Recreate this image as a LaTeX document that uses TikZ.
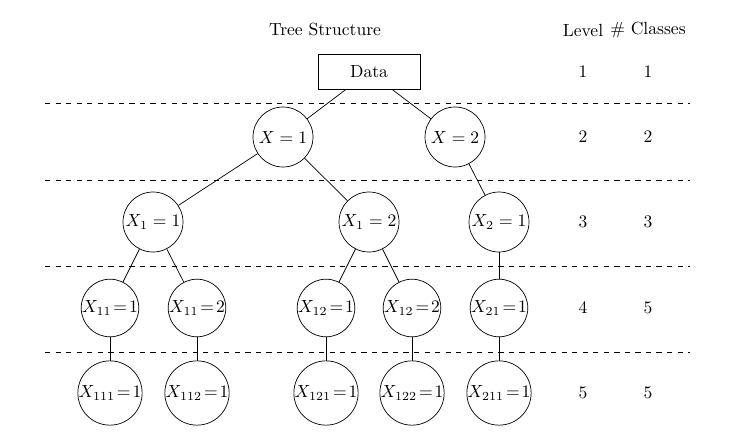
\documentclass[tikz,border=0pt]{standalone}
\usepackage{amsmath}
\usepackage{tikz}
\usetikzlibrary{calc}

\begin{document}
\begin{tikzpicture}[x=0.02cm,y=-0.02cm,
	class/.style={draw,circle,inner sep=0pt,minimum size=1.08cm},
	wide/.style={class,minimum size=1.2cm},
	root/.style={draw,rectangle,minimum width=2.04cm,minimum height=0.7cm},
	level/.style={dashed}]
		\useasboundingbox (0,0) rectangle (729,433);

		% headings
		\node (title) at (325,29) {Tree Structure};
		\node (lvl) at (583,30) {Level};
		\node (ncl) at (648,30) {\# Classes};

		% separators
		\foreach \y in {103,180,266,352}
			\draw[level] (45,\y) -- (690,\y);

		\node[root] (D) at (369,72) {Data};

		\node[wide] (A) at (283,137) {$X=1$};
		\node[wide] (B) at (455,137) {$X=2$};

		\node[wide] (A1) at (153,222) {$X_1=1$};
		\node[wide] (A2) at (369,222) {$X_1=2$};
		\node[wide] (B1) at (499,222) {$X_2=1$};

		\node[class] (A11) at (110,308) {$X_{11}\!=\!1$};
		\node[class] (A12) at (197,308) {$X_{11}\!=\!2$};
		\node[class] (A21) at (326,308) {$X_{12}\!=\!1$};
		\node[class] (A22) at (412,308) {$X_{12}\!=\!2$};
		\node[class] (B11) at (499,308) {$X_{21}\!=\!1$};

		\node[class] (A111) at (110,393) {$X_{111}\!=\!1$};
		\node[class] (A121) at (197,393) {$X_{112}\!=\!1$};
		\node[class] (A211) at (326,393) {$X_{121}\!=\!1$};
		\node[class] (A221) at (412,393) {$X_{122}\!=\!1$};
		\node[class] (B111) at (499,393) {$X_{211}\!=\!1$};

		\draw (D) -- (A);
		\draw (D) -- (B);
		\draw (A) -- (A1);
		\draw (A) -- (A2);
		\draw (B) -- (B1);
		\draw (A1) -- (A11);
		\draw (A1) -- (A12);
		\draw (A2) -- (A21);
		\draw (A2) -- (A22);
		\draw (B1) -- (B11);
		\draw (A11) -- (A111);
		\draw (A12) -- (A121);
		\draw (A21) -- (A211);
		\draw (A22) -- (A221);
		\draw (B11) -- (B111);

		% level and class counts
		\node (l1) at (583,72) {1};   \node (c1) at (648,72) {1};
		\node (l2) at (583,137) {2};  \node (c2) at (648,137) {2};
		\node (l3) at (583,222) {3};  \node (c3) at (648,222) {3};
		\node (l4) at (583,308) {4};  \node (c4) at (648,308) {5};
		\node (l5) at (583,393) {5};  \node (c5) at (648,393) {5};
	\end{tikzpicture}
\end{document}
